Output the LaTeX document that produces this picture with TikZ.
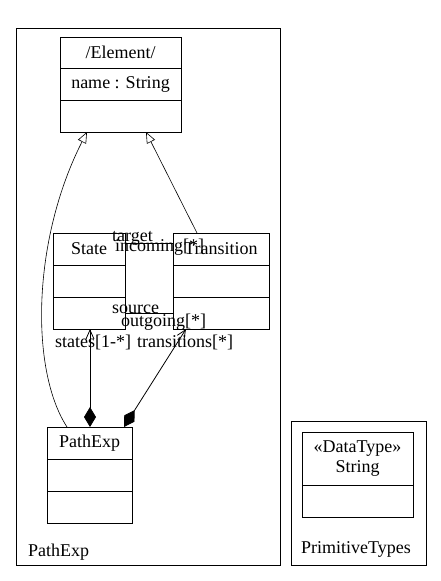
\documentclass[tikz,border=0pt]{standalone}
\usepackage{fontspec}
\setmainfont{Liberation Serif}
\usetikzlibrary{arrows.meta,positioning}
\tikzset{
	part/.style={draw=black,line width=0.8pt,inner sep=0pt,outer sep=0pt,minimum height=32pt},
	gen/.style={line width=0.6pt,-{Triangle[open,length=11pt,width=9pt]}},
	comp/.style={line width=0.8pt,{Diamond[length=20pt,width=12pt]}-{Straight Barb[length=9pt,width=8pt]}},
	assoc/.style={line width=0.6pt},
	lbl/.style={anchor=base west,inner sep=0pt}
}
\begin{document}
\begin{tikzpicture}[x=1pt,y=-1pt,font=\fontsize{18}{20}\selectfont]
			\useasboundingbox (0,0) rectangle (441,581);						% page
			\draw [line width=0.8pt] (16,28) rectangle (280,565);				% package PathExp
			\draw [line width=0.8pt] (291,421) rectangle (426,565);			% package PrimitiveTypes
			\node[lbl] (pkg-path) at (28,556) {PathExp};
			\node[lbl] (pkg-prim) at (301,553) {PrimitiveTypes};
			% class Element
			\node[part,minimum width=121pt,minimum height=31pt,anchor=north west] (elem) at (60,37) {/Element/};
			\node[part,minimum width=121pt,below=0pt of elem] (elem-attr) {name : String};
			\node[part,minimum width=121pt,below=0pt of elem-attr] (elem-ops) {};
			% class State
			\node[part,minimum width=72pt,anchor=north west] (state) at (53,233) {State};
			\node[part,minimum width=72pt,below=0pt of state] (state-attr) {};
			\node[part,minimum width=72pt,below=0pt of state-attr] (state-ops) {};
			% class Transition
			\node[part,minimum width=96pt,anchor=north west] (trans) at (173,233) {Transition};
			\node[part,minimum width=96pt,below=0pt of trans] (trans-attr) {};
			\node[part,minimum width=96pt,below=0pt of trans-attr] (trans-ops) {};
			% class PathExp
			\node[part,minimum width=85pt,anchor=north west] (pathexp) at (47,427) {PathExp};
			\node[part,minimum width=85pt,below=0pt of pathexp] (pathexp-attr) {};
			\node[part,minimum width=85pt,below=0pt of pathexp-attr] (pathexp-ops) {};
			% datatype String
			\node[part,minimum width=111pt,minimum height=53pt,align=center,anchor=north west] (string) at (302,432) {«DataType»\\String};
			\node[part,minimum width=111pt,below=0pt of string] (string-ops) {};
			% generalizations
			\draw [gen] ([xshift=20pt]pathexp.north west) .. controls (30,370) and (32,240) .. ([xshift=27pt]elem-ops.south west);
			\draw [gen] ([xshift=24pt]trans.north west) -- ([xshift=86pt]elem-ops.south west);
			% associations
			\draw [assoc] ([yshift=6pt]state.east) -- ([yshift=6pt]trans.west);
			\draw [assoc] (state-ops.east) -- (trans-ops.west);
			\node[lbl] (lbl-target) at (112,241) {target};
			\node[lbl] (lbl-incoming) at (115,251) {incoming[*]};
			\node[lbl] (lbl-source) at (112,313) {source};
			\node[lbl] (lbl-outgoing) at (121,326) {outgoing[*]};
			% compositions
			\draw [comp] ([xshift=43pt]pathexp.north west) -- ([xshift=37pt]state-ops.south west);
			\draw [comp] ([xshift=77pt]pathexp.north west) -- ([xshift=13pt]trans-ops.south west);
			\node[lbl] (lbl-states) at (55,347) {states[1-*]};
			\node[lbl] (lbl-trans) at (137,347) {transitions[*]};
		\end{tikzpicture}
\end{document}
